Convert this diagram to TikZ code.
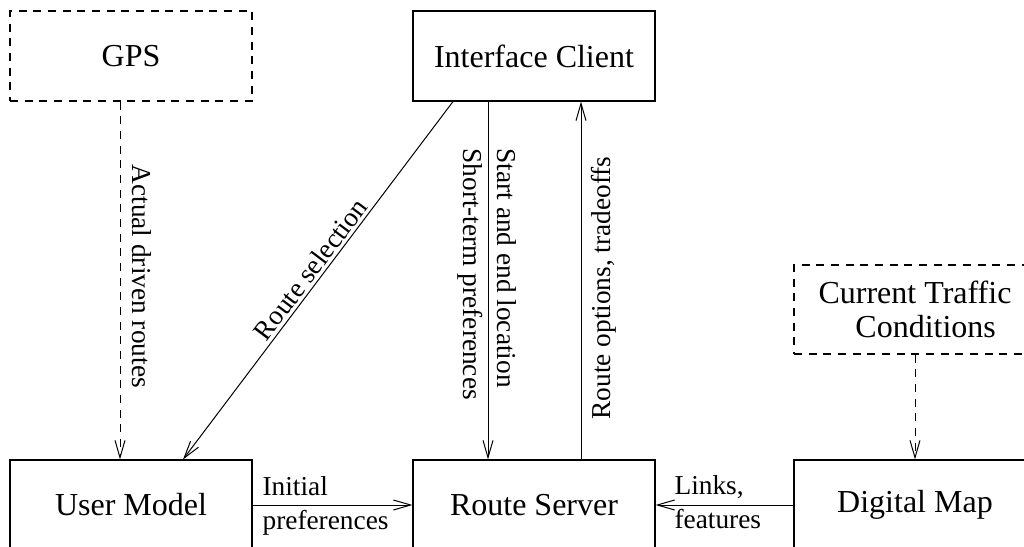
\documentclass[tikz,border=0pt]{standalone}
\usepackage{fontspec}
\setmainfont{Liberation Serif}
\usetikzlibrary{arrows.meta,calc}
\begin{document}
\begin{tikzpicture}[x=0.75pt,y=-0.75pt,
  box/.style={draw, line width=0.8pt, minimum width=181.5pt, minimum height=67.5pt,
    inner sep=0pt, font=\fontsize{24}{25.5}\selectfont, align=center},
  dbox/.style={box, dash pattern=on 6pt off 5pt},
  lbl/.style={inner sep=1pt, font=\fontsize{20.5}{25.5}\selectfont, align=left},
  conn/.style={line width=0.75pt, -{Straight Barb[length=13pt,width=7.5pt]}},
  dconn/.style={conn, dash pattern=on 6pt off 5pt}]
\useasboundingbox (0,0) rectangle (1024,546);
\clip (0,0) rectangle (1024,546);
% boxes
\node[dbox] (gps) at (131,56) {GPS};
\node[box]  (ic)  at (534,56) {Interface Client};
\node[box]  (um)  at (131,505) {User Model};
\node[box]  (rs)  at (534,505) {Route Server};
\node[box]  (dm)  at (915,505) {Digital Map};
\node[dbox, minimum height=66.75pt] (ctc) at (915,309.5) {Current Traffic\\\hspace*{16pt}Conditions};
% connectors
\draw[dconn] ($(gps.south)+(-11,0)$) -- ($(um.north)+(-11,0)$);
\draw[conn] ($(ic.south)+(-81,0)$) -- ($(um.north)+(52,0)$)
  node[lbl, pos=0.49, sloped, above, inner sep=2pt] (rsel) {Route selection};
\draw[conn] ($(ic.south)+(-46,0)$) -- ($(rs.north)+(-46,0)$);
\draw[conn] ($(rs.north)+(47,0)$) -- ($(ic.south)+(47,0)$);
\draw[conn] (um.east) -- (rs.west);
\draw[conn] (dm.west) -- (rs.east);
\draw[dconn] (ctc.south) -- (dm.north);
% labels
\node[lbl, rotate=-90, anchor=west] (adr) at (142,163) {Actual driven routes};
\node[lbl, rotate=-90, anchor=west] (sel) at (487,147) {Start and end location\\Short-term preferences};
\node[lbl, rotate=90, anchor=west] (rot) at (604,421) {Route options, tradeoffs};
\node[lbl, anchor=west] (ip) at (261,506) {Initial\\preferences};
\node[lbl, anchor=west] (lf) at (673,502) {Links,\\features};
\end{tikzpicture}
\end{document}
